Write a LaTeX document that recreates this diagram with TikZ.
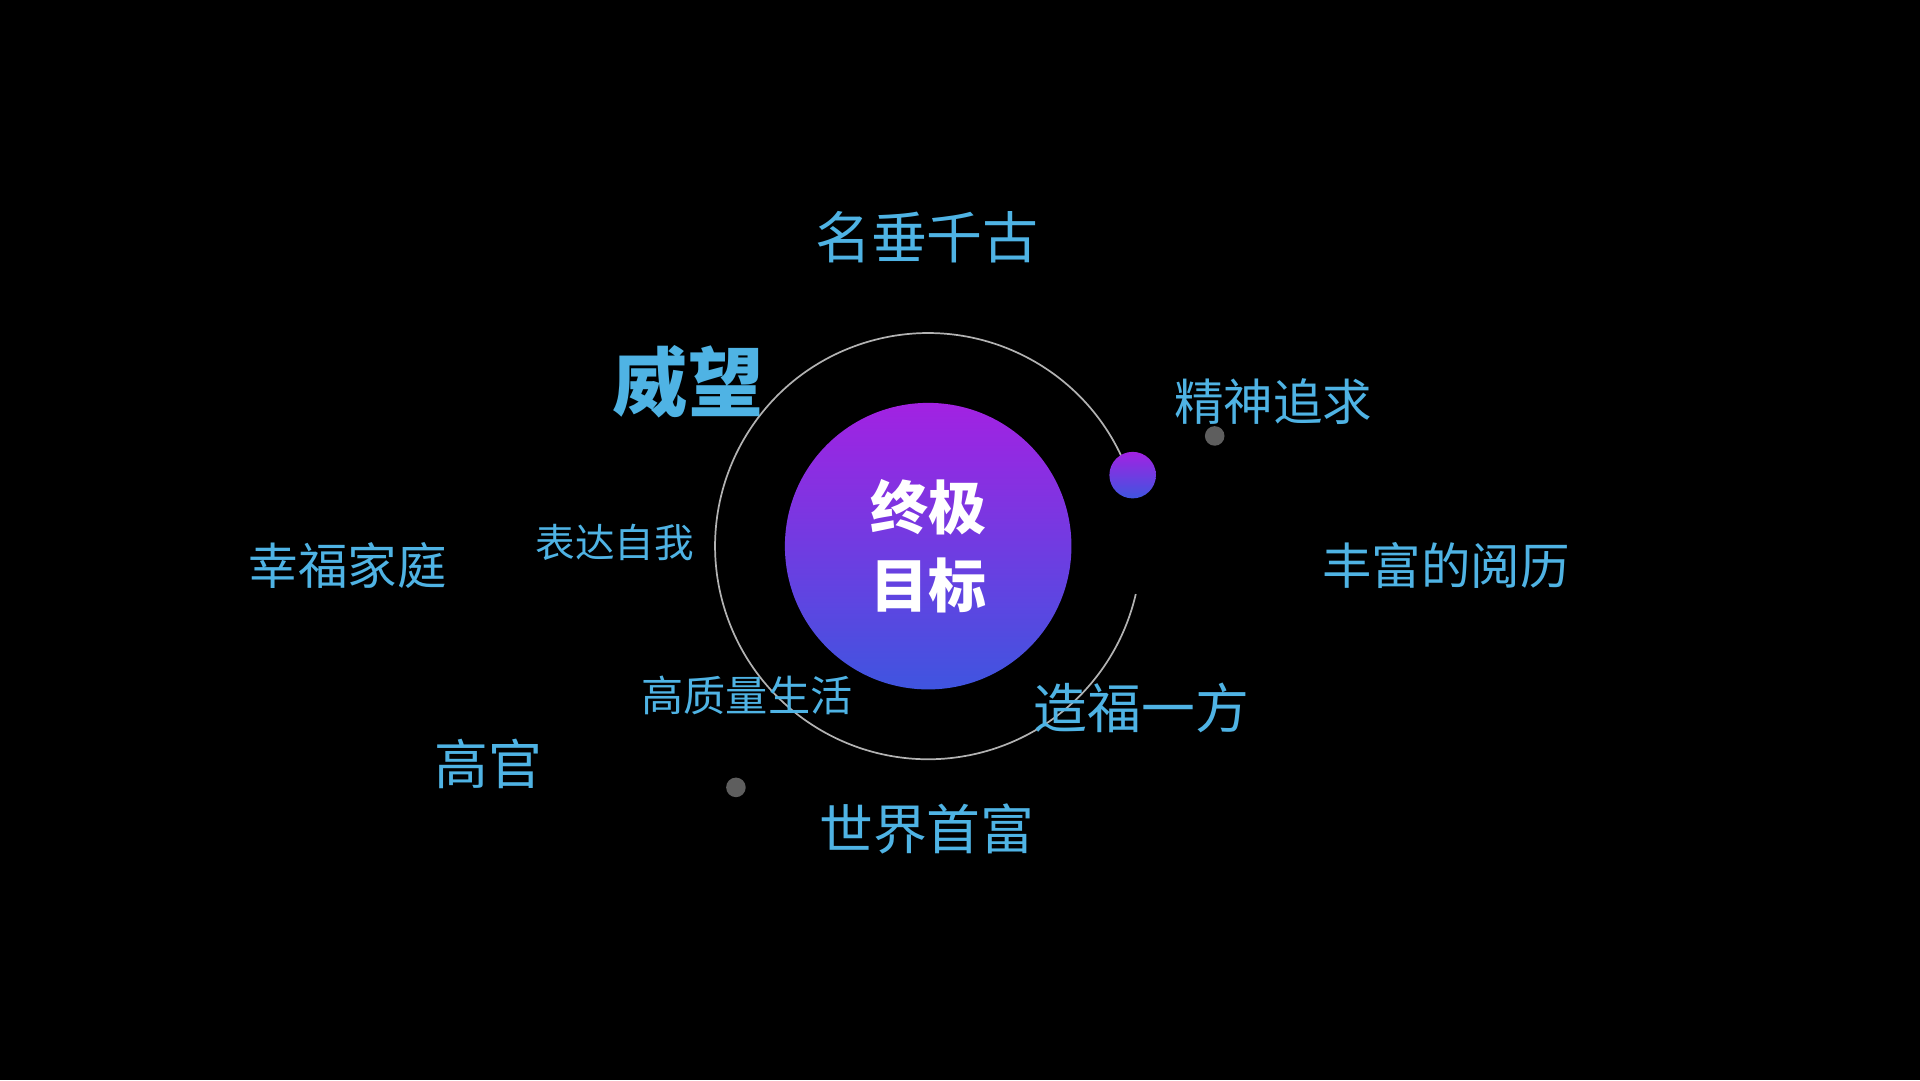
\documentclass[tikz,border=0pt]{standalone}
\usepackage{fontspec}
\setmainfont{Noto Sans CJK SC}
\definecolor{bgblack}{HTML}{000000}
\definecolor{wordblue}{HTML}{4FB3E4}
\definecolor{ballpurple}{HTML}{A222E2}
\definecolor{ballblue}{HTML}{3F55E0}
\definecolor{dotgray}{HTML}{5E5E5E}
\tikzset{
  word/.style={text=wordblue, inner sep=0pt},
  ball/.style={circle, top color=ballpurple, bottom color=ballblue, inner sep=0pt},
  dot/.style={circle, fill=dotgray, minimum size=0.16cm, inner sep=0pt}
}
\newcommand{\fsz}[1]{\fontsize{#1}{#1}\selectfont}
\begin{document}
\begin{tikzpicture}
  \fill[bgblack] (0,0) rectangle (15.68,-8.82);
  \useasboundingbox (0,0) rectangle (15.68,-8.82);

  % orbit
  \draw[gray!60, line width=0.4pt] (7.58,-4.46) ++(19:1.74) arc[start angle=19, end angle=347, radius=1.74];

  \node[ball, minimum size=2.34cm] (goal) at (7.58,-4.46)
    {\parbox{2cm}{\centering\color{white}\bfseries\fsz{13.5}\baselineskip=18pt 终极\\目标}};
  \node[ball, minimum size=0.38cm] (moon) at (9.25,-3.88) {};
  \node[dot] (dotA) at (9.92,-3.56) {};
  \node[dot] (dotB) at (6.01,-6.43) {};

  \node[word] (fame) at (7.57,-1.94) {\fsz{13}名垂千古};
  \node[word] (prestige) at (5.62,-3.12) {\bfseries\fsz{17.5}威望};
  \node[word] (spirit) at (10.40,-3.28) {\fsz{11.5}精神追求};
  \node[word] (express) at (5.02,-4.43) {\fsz{9.2}表达自我};
  \node[word] (family) at (2.84,-4.62) {\fsz{11.5}幸福家庭};
  \node[word] (experience) at (11.81,-4.62) {\fsz{11.5}丰富的阅历};
  \node[word] (life) at (6.10,-5.68) {\fsz{9.8}高质量生活};
  \node[word] (benefit) at (9.32,-5.78) {\fsz{12.5}造福一方};
  \node[word] (official) at (3.99,-6.24) {\fsz{12.5}高官};
  \node[word] (richest) at (7.57,-6.77) {\fsz{12.5}世界首富};
\end{tikzpicture}
\end{document}
